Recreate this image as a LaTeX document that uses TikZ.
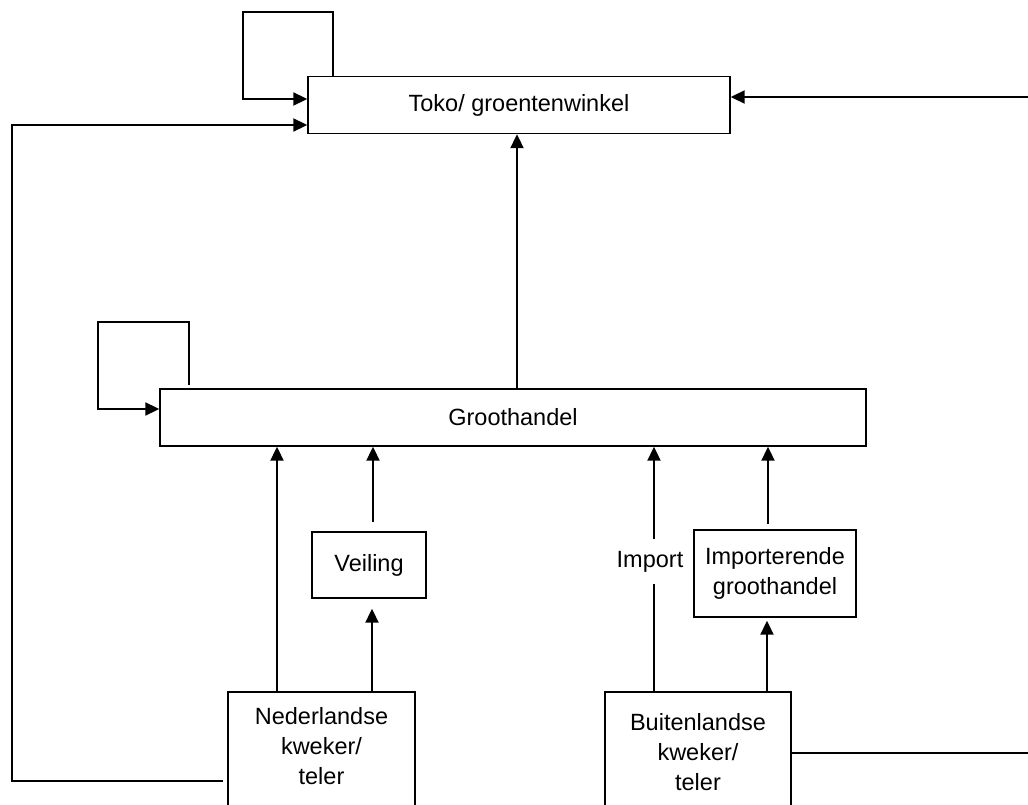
\documentclass[tikz,border=0pt]{standalone}
\usepackage{fontspec}
\setmainfont{Liberation Sans}
\usetikzlibrary{arrows.meta}
\begin{document}
\begin{tikzpicture}[x=1pt,y=-1pt,
  box/.style={draw, line width=1.4pt, inner sep=0pt, rectangle},
  lbl/.style={font=\fontsize{23.5}{30}\selectfont, align=center, inner sep=0pt},
  flow/.style={line width=2pt, -{Triangle[length=14pt,width=13pt]}},
  wire/.style={line width=1.7pt}]
\useasboundingbox (0,0) rectangle (1028,805);

% boxes
\node[box, minimum width=422pt, minimum height=57pt, lbl] (tok) at (519,105) {Toko/ groentenwinkel};
\node[box, minimum width=706pt, minimum height=57pt, lbl] (grh) at (513,417.5) {Groothandel};
\node[box, minimum width=114pt, minimum height=66pt, lbl] (vei) at (369,565) {Veiling};
\node[box, minimum width=162pt, minimum height=87pt, lbl] (igh) at (775,573.5) {Importerende\\groothandel};
\node[box, minimum width=187pt, minimum height=140pt] (ned) at (321.5,762) {};
\node[box, minimum width=186pt, minimum height=140pt] (bui) at (698,762) {};
\node[lbl, anchor=north] (nedtxt) at ([yshift=-16pt]ned.north) {Nederlandse\\kweker/\\teler};
\node[lbl, anchor=north] (buitxt) at ([yshift=-22pt]bui.north) {Buitenlandse\\kweker/\\teler};
\node[lbl, minimum height=45pt] (imp) at (650,561.5) {Import};

% turning points of the loops and long lines
\coordinate (tl1) at (333,12);
\coordinate (tl2) at (243,12);
\coordinate (tl3) at (243,99);
\coordinate (gl0) at (189,385);
\coordinate (gl1) at (189,322);
\coordinate (gl2) at (98,322);
\coordinate (gl3) at (98,409);
\coordinate (fb0) at (223,781);
\coordinate (fb1) at (12,781);
\coordinate (fb2) at (12,125);
\coordinate (rin) at (1028,97);
\coordinate (rout) at (1028,753);

% self loops
\draw[flow] (tok.north -| tl1) -- (tl1) -- (tl2) -- (tl3) -- (tl3 -| tok.west);
\draw[flow] (gl0) -- (gl1) -- (gl2) -- (gl3) -- (gl3 -| grh.west);

% feedback from Nederlandse kweker to the toko
\draw[flow] (fb0) -- (fb1) -- (fb2) -- (fb2 -| tok.west);
% incoming line on the right
\draw[flow] (rin) -- (rin -| tok.east);
% outgoing line from Buitenlandse kweker
\draw[wire] (bui.east |- rout) -- (rout);

% groothandel to toko
\draw[flow] (grh.north -| 517,0) -- (tok.south -| 517,0);

% Nederlandse side
\draw[flow] (ned.north -| 277,0) -- (grh.south -| 277,0);
\draw[flow, shorten >=10pt] (ned.north -| 372,0) -- (vei.south -| 372,0);
\draw[flow, shorten <=9pt] (vei.north -| 373,0) -- (grh.south -| 373,0);

% Buitenlandse side
\draw[wire, line width=2pt] (bui.north -| 654,0) -- (imp.south -| 654,0);
\draw[flow] (imp.north -| 654,0) -- (grh.south -| 654,0);
\draw[flow, shorten >=3pt] (bui.north -| 767,0) -- (igh.south -| 767,0);
\draw[flow, shorten <=5pt] (igh.north -| 768,0) -- (grh.south -| 768,0);
\end{tikzpicture}
\end{document}
